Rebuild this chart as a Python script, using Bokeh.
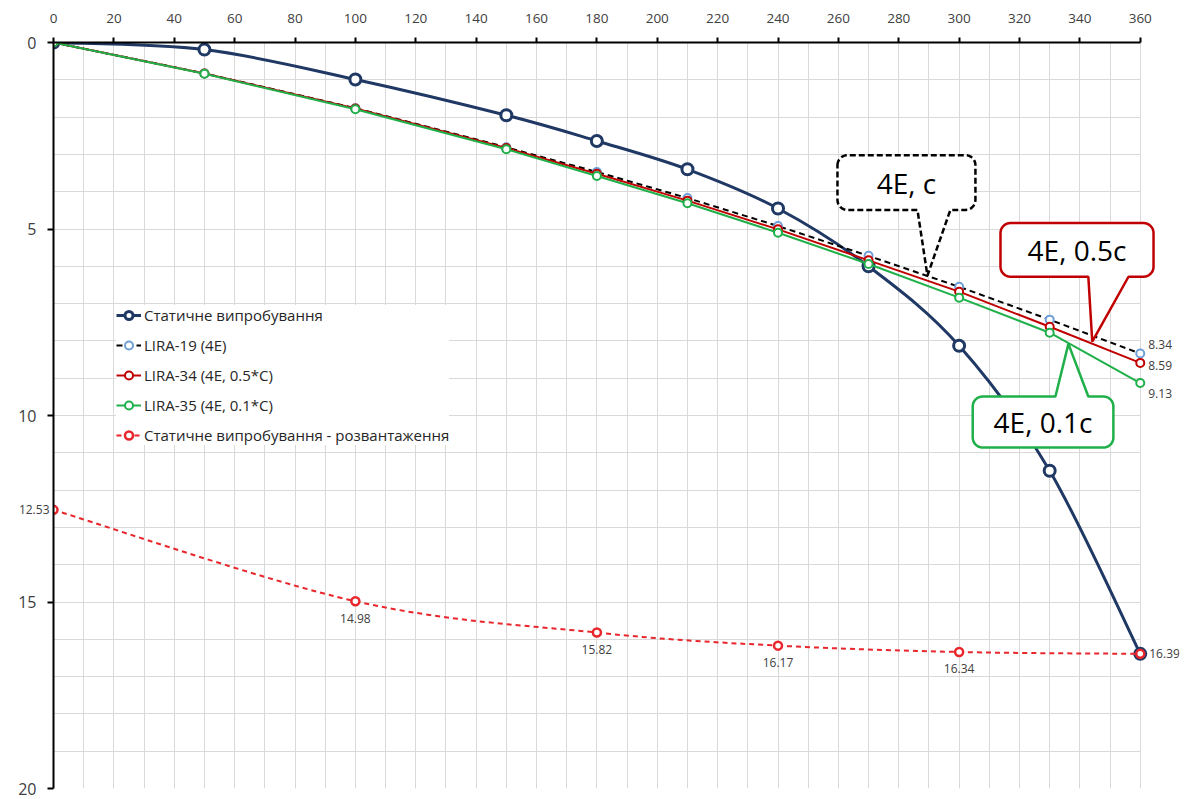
import numpy as np
from bokeh.plotting import figure
from bokeh.models import (Range1d, FixedTicker, Legend, LegendItem, Label,
                          PolyAnnotation, ColumnDataSource, LabelSet, LinearAxis)
from bokeh.core.properties import value
from bokeh.embed import file_html
from bokeh.resources import INLINE

# ---------------- data ----------------
x_load = [0, 50, 100, 150, 180, 210, 240, 270, 300, 330, 360]
static_test = [0, 0.19, 0.99, 1.95, 2.64, 3.40, 4.45, 6.00, 8.13, 11.48, 16.39]
lira19 = [0, 0.83, 1.76, 2.81, 3.47, 4.17, 4.92, 5.72, 6.55, 7.43, 8.34]
lira34 = [0, 0.83, 1.77, 2.83, 3.52, 4.24, 5.01, 5.84, 6.68, 7.62, 8.59]
lira35 = [0, 0.84, 1.79, 2.86, 3.58, 4.31, 5.10, 5.94, 6.84, 7.78, 9.13]
x_unload = [0, 100, 180, 240, 300, 360]
unloading = [12.53, 14.98, 15.82, 16.17, 16.34, 16.39]

x_ticks = list(range(0, 361, 20))
x_minor = list(range(0, 361, 10))
y_ticks = [0, 5, 10, 15, 20]
y_minor = list(range(0, 21))

names = ["Статичне випробування", "LIRA-19 (4E)", "LIRA-34 (4E, 0.5*C)",
         "LIRA-35 (4E, 0.1*C)", "Статичне випробування - розвантаження"]

# ---------------- layout ----------------
X_END = 373.0          # frame extends a little past the last tick (room for labels)
FW, FH = 1126, 746
SX = FW / X_END
SY = FH / 20.0
FONT = "Open Sans"
TXT = "#404040"

p = figure(frame_width=FW, frame_height=FH, x_axis_location="above",
           x_range=Range1d(0, X_END), y_range=Range1d(20, 0),
           output_backend="svg", toolbar_location=None,
           min_border_left=53, min_border_top=42, min_border_right=9,
           min_border_bottom=11, background_fill_color="white",
           border_fill_color="white", outline_line_color=None)

p.xaxis.ticker = FixedTicker(ticks=x_ticks, minor_ticks=x_minor)
p.yaxis.ticker = FixedTicker(ticks=y_ticks, minor_ticks=y_minor)
p.xaxis.bounds = (0, 360)
for ax in (p.xaxis, p.yaxis):
    ax.axis_line_color = "black"
    ax.axis_line_width = 2
    ax.major_tick_line_color = "black"
    ax.major_tick_line_width = 2
    ax.minor_tick_line_color = None
    ax.major_label_text_font = FONT
    ax.major_label_text_color = TXT
p.xaxis.major_tick_in = 0
p.xaxis.major_tick_out = 5
p.xaxis.major_label_standoff = 15
p.xaxis.major_label_text_font_size = "13.5px"
p.yaxis.major_tick_in = 0
p.yaxis.major_tick_out = 6
p.yaxis.major_label_standoff = 11
p.yaxis.major_label_text_font_size = "16px"

for g in (p.xgrid, p.ygrid):
    g.grid_line_color = "#d9d9d9"
    g.grid_line_width = 1
    g.minor_grid_line_color = "#d9d9d9"
    g.minor_grid_line_width = 1
p.ygrid.cross_bounds = (0, 360)


def smooth(xs, ys):
    x = np.asarray(xs, float)
    y = np.asarray(ys, float)
    xp = np.concatenate([[x[0]], x, [x[-1]]])
    yp = np.concatenate([[y[0]], y, [y[-1]]])
    n = len(x)
    d = dict(x0=[], y0=[], x1=[], y1=[], cx0=[], cy0=[], cx1=[], cy1=[])
    for i in range(n - 1):
        d["x0"].append(xp[i + 1]); d["y0"].append(yp[i + 1])
        d["x1"].append(xp[i + 2]); d["y1"].append(yp[i + 2])
        d["cx0"].append(xp[i + 1] + (xp[i + 2] - xp[i]) / 6)
        d["cy0"].append(yp[i + 1] + (yp[i + 2] - yp[i]) / 6)
        d["cx1"].append(xp[i + 2] - (xp[i + 3] - xp[i + 1]) / 6)
        d["cy1"].append(yp[i + 2] - (yp[i + 3] - yp[i + 1]) / 6)
    return ColumnDataSource(d)


NAVY = "#1f3864"
items = []

r0l = p.bezier(x0="x0", y0="y0", x1="x1", y1="y1", cx0="cx0", cy0="cy0",
               cx1="cx1", cy1="cy1", source=smooth(x_load, static_test),
               line_color=NAVY, line_width=3)
r0m = p.scatter(x_load, static_test, size=11, marker="circle", fill_color="white",
                line_color=NAVY, line_width=3)
items.append(LegendItem(label=names[0], renderers=[r0l, r0m]))

r1l = p.line(x_load, lira19, line_color="black", line_width=2, line_dash="6 4")
r1m = p.scatter(x_load, lira19, size=8, marker="circle", fill_color="white",
                line_color="#6f9fd8", line_width=2)
items.append(LegendItem(label=names[1], renderers=[r1l, r1m]))

r2l = p.line(x_load, lira34, line_color="#c00000", line_width=2)
r2m = p.scatter(x_load, lira34, size=8, marker="circle", fill_color="white",
                line_color="#c00000", line_width=2)
items.append(LegendItem(label=names[2], renderers=[r2l, r2m]))

r3l = p.line(x_load, lira35, line_color="#1fb04a", line_width=2)
r3m = p.scatter(x_load, lira35, size=8, marker="circle", fill_color="white",
                line_color="#1fb04a", line_width=2)
items.append(LegendItem(label=names[3], renderers=[r3l, r3m]))

r4l = p.bezier(x0="x0", y0="y0", x1="x1", y1="y1", cx0="cx0", cy0="cy0",
               cx1="cx1", cy1="cy1", source=smooth(x_unload, unloading),
               line_color="#e8262b", line_width=2, line_dash="5 4")
r4m = p.scatter(x_unload, unloading, size=8, marker="circle", fill_color="white",
                line_color="#e8262b", line_width=2.5)
items.append(LegendItem(label=names[4], renderers=[r4l, r4m]))

legend = Legend(items=items, location=(63, 343), background_fill_color="white",
                background_fill_alpha=1, border_line_color=None,
                label_text_font=FONT, label_text_font_size="15px",
                label_text_color="#262626", glyph_width=25, glyph_height=20,
                label_height=20, spacing=10, padding=10, label_standoff=3,
                margin=0)
p.add_layout(legend)

# ---------------- data labels ----------------
def fmt(v):
    return f"{v:.2f}"

lab_kw = dict(text_font=value(FONT), text_font_size="12px", text_color=TXT)

# first unloading value sits left of the y axis: shown by an outer, line-less axis
first_ax = LinearAxis(ticker=FixedTicker(ticks=[unloading[0]], minor_ticks=[]),
                      major_label_overrides={unloading[0]: fmt(unloading[0])},
                      axis_line_color=None, major_tick_line_color=None,
                      minor_tick_line_color=None, major_tick_in=0, major_tick_out=0,
                      major_label_standoff=-34, major_label_text_font=FONT,
                      major_label_text_font_size="12px", major_label_text_color=TXT)
p.add_layout(first_ax, "left")

src_mid = ColumnDataSource(dict(x=x_unload[1:-1], y=unloading[1:-1],
                                t=[fmt(v) for v in unloading[1:-1]]))
p.add_layout(LabelSet(x="x", y="y", text="t", source=src_mid, y_offset=-17,
                      text_align="center", text_baseline="middle", **lab_kw))
src_last = ColumnDataSource(dict(x=x_unload[-1:], y=unloading[-1:],
                                 t=[fmt(v) for v in unloading[-1:]]))
p.add_layout(LabelSet(x="x", y="y", text="t", source=src_last, x_offset=9,
                      text_align="left", text_baseline="middle", **lab_kw))

for series, dy in ((lira19, 9), (lira34, -3), (lira35, -10)):
    s = ColumnDataSource(dict(x=x_load[-1:], y=series[-1:], t=[fmt(series[-1])]))
    p.add_layout(LabelSet(x="x", y="y", text="t", source=s, x_offset=8,
                          y_offset=dy, text_align="left", text_baseline="middle",
                          **lab_kw))

# ---------------- callouts ----------------
def callout(x0, x1, y0, y1, tip, base, side, r_px=10):
    rx, ry = r_px / SX, r_px / SY
    xs, ys = [], []

    def arc(cx, cy, a0, a1):
        for a in np.linspace(a0, a1, 9):
            xs.append(cx + rx * np.cos(a)); ys.append(cy + ry * np.sin(a))

    arc(x0 + rx, y0 + ry, np.pi, 1.5 * np.pi)
    if side == "top":
        xs.extend([base[0], tip[0], base[1]]); ys.extend([y0, tip[1], y0])
    arc(x1 - rx, y0 + ry, 1.5 * np.pi, 2 * np.pi)
    arc(x1 - rx, y1 - ry, 0, 0.5 * np.pi)
    if side == "bottom":
        xs.extend([base[1], tip[0], base[0]]); ys.extend([y1, tip[1], y1])
    arc(x0 + rx, y1 - ry, 0.5 * np.pi, np.pi)
    return xs, ys


callouts = [
    ("4E, c", (259.7, 305.4, 3.02, 4.49), (289.5, 6.25), (286.2, 297.1), "bottom",
     "black", "6 3"),
    ("4E, 0.5c", (313.7, 364.4, 4.84, 6.28), (344.1, 8.02), (342.8, 356.1), "bottom",
     "#c00000", "solid"),
    ("4E, 0.1c", (304.5, 351.1, 9.49, 10.86), (336.2, 8.08), (331.9, 342.8), "top",
     "#1fb04a", "solid"),
]
for text, (bx0, bx1, by0, by1), tip, base, side, col, dash in callouts:
    xs, ys = callout(bx0, bx1, by0, by1, tip, base, side)
    p.add_layout(PolyAnnotation(xs=xs, ys=ys, fill_color="white", fill_alpha=1,
                                line_color=col, line_alpha=1, line_width=2.5,
                                line_dash=dash))
    p.add_layout(Label(x=(bx0 + bx1) / 2, y=(by0 + by1) / 2, text=text,
                       text_align="center", text_baseline="middle",
                       text_font=FONT, text_font_size="28px", text_color="black"))

open("out.html", "w").write(file_html(p, INLINE))
